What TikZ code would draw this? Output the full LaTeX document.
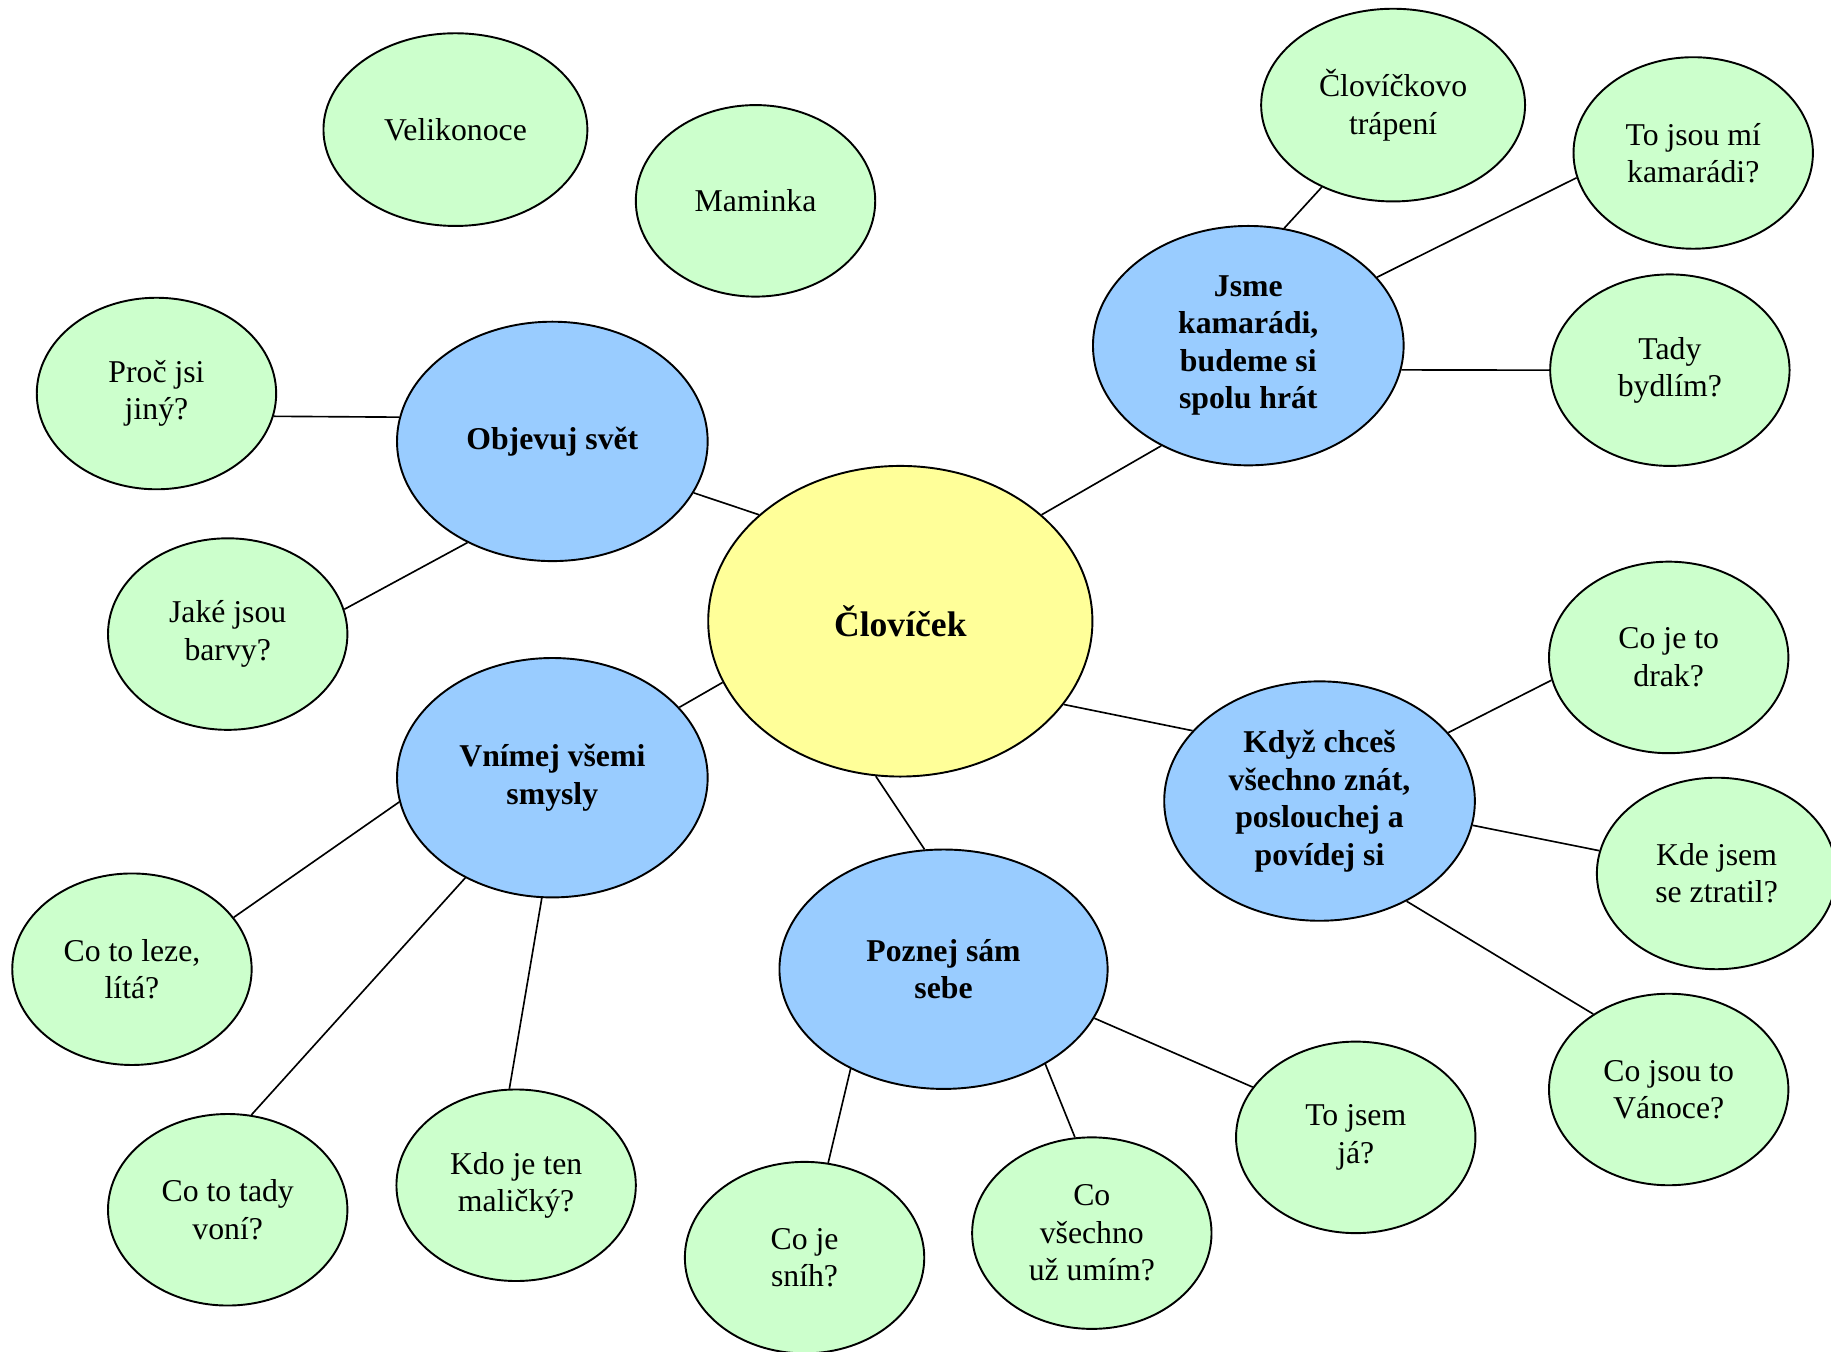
\documentclass[tikz,border=0pt]{standalone}
\usepackage{fontspec}
\setmainfont{Liberation Serif}
\usetikzlibrary{shapes.geometric}
\definecolor{leafgreen}{RGB}{204,255,204}
\definecolor{topicblue}{RGB}{153,204,255}
\definecolor{rootyellow}{RGB}{255,255,153}
\tikzset{
    leafnode/.style = {
        ellipse,
        align=center,
        draw=black,
        line width=0.7pt,
        fill=leafgreen,
        font=\fontsize{11.6}{13.7}\selectfont,
        minimum width=30.75mm,
        minimum height=24.6mm,
        inner sep=0pt
    },
    wideleafnode/.style = {
        leafnode,
        minimum width=33.9mm,
        minimum height=24.75mm
    },
    topicnode/.style = {
        leafnode,
        fill=topicblue,
        font=\fontsize{11.6}{13.7}\selectfont\bfseries,
        minimum width=39.9mm,
        minimum height=30.75mm
    },
    rootnode/.style = {
        topicnode,
        fill=rootyellow,
        font=\fontsize{13}{15}\selectfont\bfseries,
        minimum width=49.35mm,
        minimum height=39.9mm
    },
    link/.style = {
        draw=black,
        line width=0.6pt
    }
}

\begin{document}
\begin{tikzpicture}[x=0.15mm, y=-0.15mm]
    \useasboundingbox (0,0) rectangle (1568,1157);
    % centre and topics
    \node [rootnode] (clovicek) at (771,532) {Človíček};
    \node [topicnode] (objevuj) at (473,378) {Objevuj svět};
    \node [topicnode] (vnimej) at (473,666) {Vnímej všemi\\smysly};
    \node [topicnode, minimum width=42.15mm] (poznej) at (808,830) {Poznej sám\\sebe};
    \node [topicnode] (kdyz) at (1130,686) {Když chceš\\všechno znát,\\poslouchej a\\povídej si};
    \node [topicnode] (jsme) at (1069,296) {Jsme\\kamarádi,\\budeme si\\spolu hrát};
    % leaves
    \node [wideleafnode] (velikonoce) at (390,111) {Velikonoce};
    \node [leafnode] (maminka) at (647,172) {Maminka};
    \node [leafnode] (proc) at (134,337) {Proč jsi\\jiný?};
    \node [leafnode] (jake) at (195,543) {Jaké jsou\\barvy?};
    \node [leafnode] (leze) at (113,830) {Co to leze,\\lítá?};
    \node [leafnode] (voni) at (195,1036) {Co to tady\\voní?};
    \node [leafnode] (kdo) at (442,1015) {Kdo je ten\\maličký?};
    \node [leafnode] (snih) at (689,1077) {Co je\\sníh?};
    \node [leafnode] (umim) at (935,1056) {Co\\všechno\\už umím?};
    \node [leafnode] (tojsem) at (1161,974) {To jsem\\já?};
    \node [leafnode] (drak) at (1429,563) {Co je to\\drak?};
    \node [leafnode] (kde) at (1470,748) {Kde jsem\\se ztratil?};
    \node [leafnode] (vanoce) at (1429,933) {Co jsou to\\Vánoce?};
    \node [wideleafnode] (trapeni) at (1193,90) {Človíčkovo\\trápení};
    \node [leafnode] (kamaradi) at (1450,131) {To jsou mí\\kamarádi?};
    \node [leafnode] (bydlim) at (1430,317) {Tady\\bydlím?};
    % links
    \draw [link] (objevuj.171) -- (proc.-11);
    \draw [link] (objevuj.-130) -- (jake.12);
    \draw [link] (objevuj.-20) -- (clovicek.143);
    \draw [link] (vnimej.29) -- (clovicek.-161);
    \draw [link] (clovicek.37) -- (jsme.-131);
    \draw [link] (clovicek.-27) -- (kdyz.151);
    \draw [link] (clovicek.-99) -- (poznej.99);
    \draw [link] (jsme.73) -- (trapeni.-131);
    \draw [link] (jsme.28) -- (kamaradi.-168);
    \draw [link] (jsme.-9) -- (bydlim.180);
    \draw [link] (kdyz.28) -- (drak.-169);
    \draw [link] (kdyz.-9) -- (kde.169);
    \draw [link] (kdyz.-49) -- (vanoce.135);
    \draw [link] (poznej.-18) -- (tojsem.154);
    \draw [link] (poznej.-43) -- (umim.100);
    \draw [link] (poznej.-133) -- (snih.76);
    \draw [link] (vnimej.-171) -- (leze.27);
    \draw [link] (vnimej.-131) -- (voni.76);
    \draw [link] (vnimej.-95) -- (kdo.94);
\end{tikzpicture}
\end{document}
